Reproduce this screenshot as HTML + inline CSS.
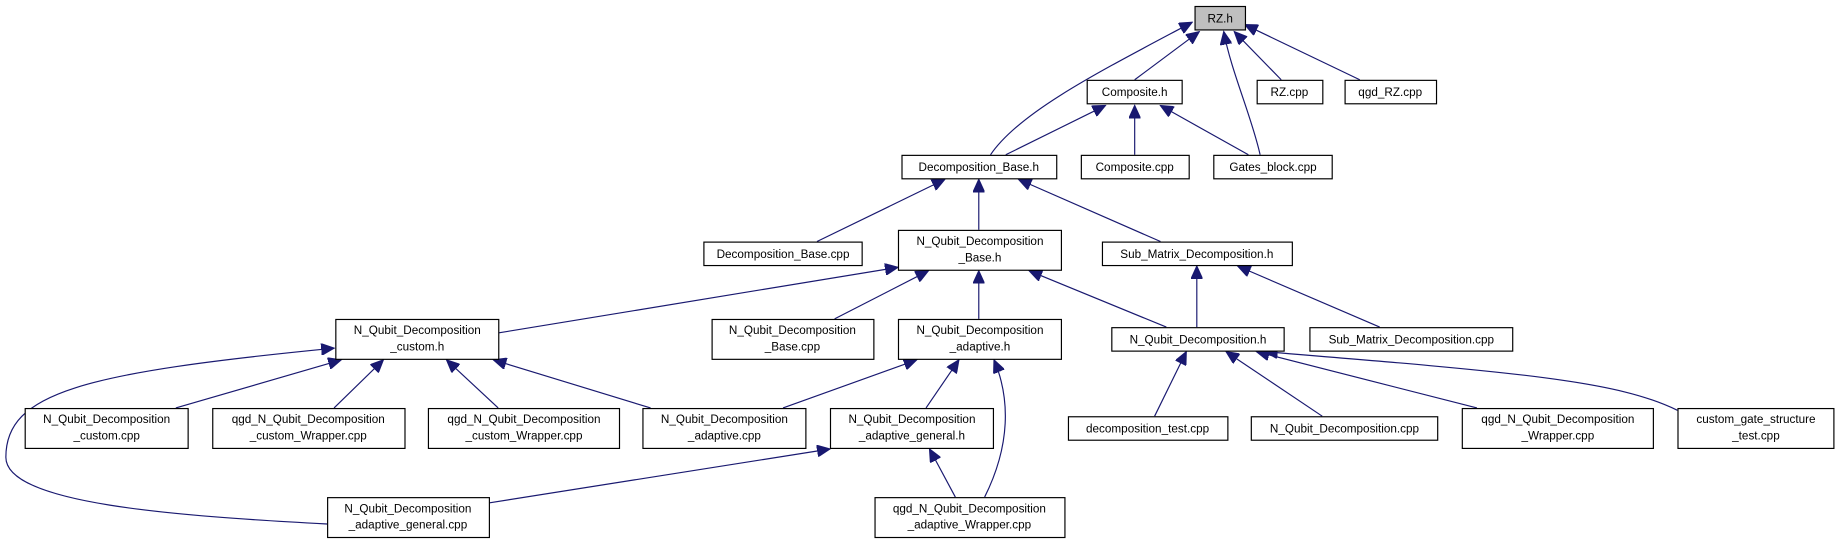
<!DOCTYPE html>
<html><head><meta charset="utf-8"><style>
html,body{margin:0;padding:0;background:#fff;}
svg{display:block;}
text{font-family:"Liberation Sans",Helvetica,Arial,sans-serif;font-size:10px;fill:#000;text-anchor:middle;}
.n{fill:#fff;stroke:#000;stroke-width:1;}
.e{fill:none;stroke:#191970;stroke-width:1;marker-end:url(#a);}
</style></head><body>
<svg width="1838" height="544" viewBox="0 0 1568 464" xmlns="http://www.w3.org/2000/svg">
<defs><marker id="a" markerUnits="userSpaceOnUse" markerWidth="12" markerHeight="10" refX="11" refY="5" orient="auto"><path d="M0,0 L11,5 L0,10 Z" fill="#191970" stroke="#191970"/></marker></defs>
<path class="e" d="M845,132 C870,95 940,60 1017,19"/>
<path class="e" d="M968,68 L1023,27"/>
<path class="e" d="M1075,132 C1068,100 1050,60 1044,27"/>
<path class="e" d="M1093,68 L1053,27"/>
<path class="e" d="M1160,68 L1062,21"/>
<path class="e" d="M858,132 L943,90"/>
<path class="e" d="M968,132 L968,90"/>
<path class="e" d="M1065,132 L990,90"/>
<path class="e" d="M697,206 L806,153"/>
<path class="e" d="M835,196 L835,153"/>
<path class="e" d="M990,206 L869,153"/>
<path class="e" d="M425,284 L766,228"/>
<path class="e" d="M712,272 L792,231"/>
<path class="e" d="M835,272 L835,231"/>
<path class="e" d="M995,279 L878,231"/>
<path class="e" d="M1021,279 L1021,227"/>
<path class="e" d="M1177,279 L1056,227"/>
<path class="e" d="M150,348 L291,307"/>
<path class="e" d="M285,348 L327,307"/>
<path class="e" d="M425,348 L381,307"/>
<path class="e" d="M555,348 L421,307"/>
<path class="e" d="M279,447 C150,440 5,430 5,390 C5,335 70,318 285,297"/>
<path class="e" d="M668,348 L782,307"/>
<path class="e" d="M790,348 L818,307"/>
<path class="e" d="M840,424 C862,380 862,340 848,307"/>
<path class="e" d="M417,429 L708,383"/>
<path class="e" d="M815,424 L793,383"/>
<path class="e" d="M985,355 L1012,300"/>
<path class="e" d="M1128,355 L1046,300"/>
<path class="e" d="M1260,348 L1072,300"/>
<path class="e" d="M1431,350 C1380,325 1300,318 1079,300"/>
<rect x="1019.5" y="5.5" width="43" height="20" fill="#bfbfbf" stroke="#000"/><text x="1041" y="19">RZ.h</text>
<rect class="n" x="927.5" y="68.5" width="81" height="20"/><text x="968" y="82">Composite.h</text>
<rect class="n" x="1072.5" y="68.5" width="56" height="20"/><text x="1100" y="82">RZ.cpp</text>
<rect class="n" x="1147.5" y="68.5" width="78" height="20"/><text x="1186" y="82">qgd_RZ.cpp</text>
<rect class="n" x="769.5" y="132.5" width="132" height="20"/><text x="835" y="146">Decomposition_Base.h</text>
<rect class="n" x="922.5" y="132.5" width="92" height="20"/><text x="968" y="146">Composite.cpp</text>
<rect class="n" x="1035.5" y="132.5" width="101" height="20"/><text x="1086" y="146">Gates_block.cpp</text>
<rect class="n" x="600.5" y="206.5" width="135" height="20"/><text x="668" y="220">Decomposition_Base.cpp</text>
<rect class="n" x="766.5" y="196.5" width="139" height="34"/><text x="836" y="209">N_Qubit_Decomposition</text><text x="836" y="223">_Base.h</text>
<rect class="n" x="940.5" y="206.5" width="162" height="20"/><text x="1021" y="220">Sub_Matrix_Decomposition.h</text>
<rect class="n" x="286.5" y="272.5" width="139" height="34"/><text x="356" y="285">N_Qubit_Decomposition</text><text x="356" y="299">_custom.h</text>
<rect class="n" x="607.5" y="272.5" width="138" height="34"/><text x="676" y="285">N_Qubit_Decomposition</text><text x="676" y="299">_Base.cpp</text>
<rect class="n" x="766.5" y="272.5" width="139" height="34"/><text x="836" y="285">N_Qubit_Decomposition</text><text x="836" y="299">_adaptive.h</text>
<rect class="n" x="948.5" y="279.5" width="147" height="20"/><text x="1022" y="293">N_Qubit_Decomposition.h</text>
<rect class="n" x="1117.5" y="279.5" width="173" height="20"/><text x="1204" y="293">Sub_Matrix_Decomposition.cpp</text>
<rect class="n" x="21.5" y="348.5" width="139" height="34"/><text x="91" y="361">N_Qubit_Decomposition</text><text x="91" y="375">_custom.cpp</text>
<rect class="n" x="181.5" y="348.5" width="164" height="34"/><text x="263" y="361">qgd_N_Qubit_Decomposition</text><text x="263" y="375">_custom_Wrapper.cpp</text>
<rect class="n" x="365.5" y="348.5" width="163" height="34"/><text x="447" y="361">qgd_N_Qubit_Decomposition</text><text x="447" y="375">_custom_Wrapper.cpp</text>
<rect class="n" x="548.5" y="348.5" width="139" height="34"/><text x="618" y="361">N_Qubit_Decomposition</text><text x="618" y="375">_adaptive.cpp</text>
<rect class="n" x="708.5" y="348.5" width="139" height="34"/><text x="778" y="361">N_Qubit_Decomposition</text><text x="778" y="375">_adaptive_general.h</text>
<rect class="n" x="911.5" y="355.5" width="136" height="20"/><text x="979" y="369">decomposition_test.cpp</text>
<rect class="n" x="1067.5" y="355.5" width="159" height="20"/><text x="1147" y="369">N_Qubit_Decomposition.cpp</text>
<rect class="n" x="1247.5" y="348.5" width="163" height="34"/><text x="1329" y="361">qgd_N_Qubit_Decomposition</text><text x="1329" y="375">_Wrapper.cpp</text>
<rect class="n" x="1431.5" y="348.5" width="133" height="34"/><text x="1498" y="361">custom_gate_structure</text><text x="1498" y="375">_test.cpp</text>
<rect class="n" x="279.5" y="424.5" width="138" height="34"/><text x="348" y="437">N_Qubit_Decomposition</text><text x="348" y="451">_adaptive_general.cpp</text>
<rect class="n" x="746.5" y="424.5" width="162" height="34"/><text x="827" y="437">qgd_N_Qubit_Decomposition</text><text x="827" y="451">_adaptive_Wrapper.cpp</text>
</svg>
</body></html>
